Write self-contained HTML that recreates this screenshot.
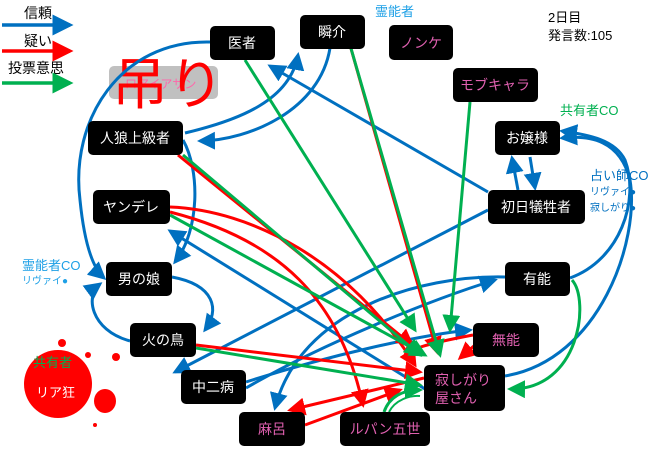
<html><head><style>body{margin:0;background:#fff}svg{display:block}
.n{fill:#000;}
text{font-family:"Liberation Sans","Noto Sans CJK JP",sans-serif}
</style></head><body>
<svg width="660" height="449" viewBox="0 0 660 449">
<defs>
<marker id="b" markerWidth="6" markerHeight="6" refX="5" refY="3" orient="auto" markerUnits="strokeWidth"><path d="M0,0L6,3L0,6z" fill="#0070c0"/></marker>
<marker id="r" markerWidth="6" markerHeight="6" refX="5" refY="3" orient="auto" markerUnits="strokeWidth"><path d="M0,0L6,3L0,6z" fill="#f00"/></marker>
<marker id="g" markerWidth="6" markerHeight="6" refX="5" refY="3" orient="auto" markerUnits="strokeWidth"><path d="M0,0L6,3L0,6z" fill="#00b050"/></marker>
</defs>
<!-- legend -->
<text x="24" y="18" font-size="14">信頼</text>
<line x1="2" y1="25" x2="70" y2="25" stroke="#0070c0" stroke-width="3.5" marker-end="url(#b)"/>
<text x="24" y="46" font-size="14">疑い</text>
<line x1="2" y1="51" x2="70" y2="51" stroke="#f00" stroke-width="3.5" marker-end="url(#r)"/>
<text x="8" y="73" font-size="14">投票意思</text>
<line x1="2" y1="83" x2="70" y2="83" stroke="#00b050" stroke-width="3.5" marker-end="url(#g)"/>
<text x="548" y="22" font-size="13">2日目</text>
<text x="548" y="40" font-size="13">発言数:105</text>
<text x="375" y="16" font-size="13" fill="#1ea0e6">霊能者</text>
<text x="560" y="115" font-size="13" fill="#00b050">共有者CO</text>
<text x="590" y="180" font-size="13" fill="#0070c0">占い師CO</text>
<text x="590" y="195" font-size="10" fill="#0070c0">リヴァイ●</text>
<text x="590" y="211" font-size="10" fill="#0070c0">寂しがり●</text>
<text x="22" y="270" font-size="13" fill="#1ea0e6">霊能者CO</text>
<text x="22" y="284" font-size="10" fill="#1ea0e6">リヴァイ●</text>
<!-- blob -->
<ellipse cx="58" cy="384" rx="34" ry="34" fill="#f00"/>
<ellipse cx="105" cy="401" rx="11" ry="12" fill="#f00"/><circle cx="116" cy="357" r="4" fill="#f00"/><circle cx="88" cy="355" r="3" fill="#f00"/><circle cx="62" cy="343" r="4" fill="#f00"/><circle cx="95" cy="425" r="2" fill="#f00"/>
<text x="33" y="367" font-size="13" fill="#00b050">共有者</text>
<text x="36" y="397" font-size="13" fill="#fff">リア狂</text>
<!-- hanged -->
<rect x="109" y="66" width="109" height="33" rx="5" fill="#c0c0c0"/>
<text x="125" y="88" font-size="12" fill="#f6a">ロアイアサン</text>
<text x="112" y="104" font-size="56" fill="#f00">吊り</text>
<!-- edges -->
<g fill="none" stroke-width="3">
<path d="M210 42C120 40 70 120 80 200C85 250 95 270 104 278" stroke="#0070c0" marker-end="url(#b)"/>
<path d="M185 133C240 120 290 100 298 55" stroke="#0070c0" marker-end="url(#b)"/>
<path d="M330 48C320 110 250 140 200 141" stroke="#0070c0" marker-end="url(#b)"/>
<path d="M183 140C200 170 200 230 175 262" stroke="#0070c0" marker-end="url(#b)"/>
<path d="M488 192L270 66" stroke="#0070c0" marker-end="url(#b)"/>
<path d="M488 210L175 372" stroke="#0070c0" marker-end="url(#b)"/>
<path d="M425 389L170 231" stroke="#0070c0" marker-end="url(#b)"/>
<path d="M172 277C215 285 220 310 205 330" stroke="#0070c0" marker-end="url(#b)"/>
<path d="M130 341C90 330 85 295 100 284" stroke="#0070c0" marker-end="url(#b)"/>
<path d="M246 388C320 345 430 300 495 280" stroke="#0070c0" marker-end="url(#b)"/>
<path d="M505 277C420 275 300 310 275 408" stroke="#0070c0" marker-end="url(#b)"/>
<path d="M246 382C330 355 420 335 470 330" stroke="#0070c0" marker-end="url(#b)"/>
<path d="M505 376C600 360 640 240 630 180C620 140 590 135 562 138" stroke="#0070c0" marker-end="url(#b)"/>
<path d="M570 278C620 260 640 200 625 160C615 140 590 135 562 131" stroke="#0070c0" marker-end="url(#b)"/>
<path d="M518 190L512 158" stroke="#0070c0" marker-end="url(#b)"/>
<path d="M530 157L535 188" stroke="#0070c0" marker-end="url(#b)"/>
<path d="M178 155L412 345" stroke="#f00" marker-end="url(#r)"/>
<path d="M170 207C250 210 350 260 415 365" stroke="#f00" marker-end="url(#r)"/>
<path d="M196 345L420 372" stroke="#f00" marker-end="url(#r)"/>
<path d="M350 45L437 352" stroke="#f00" marker-end="url(#r)"/>
<path d="M170 212C280 240 340 300 363 405" stroke="#f00" marker-end="url(#r)"/>
<path d="M473 335C420 345 410 350 405 355" stroke="#f00" marker-end="url(#r)"/>
<path d="M475 345L460 358" stroke="#f00" marker-end="url(#r)"/>
<path d="M305 425L400 390" stroke="#f00" marker-end="url(#r)"/>
<path d="M424 378L290 410" stroke="#f00" marker-end="url(#r)"/>
<path d="M245 60L415 330" stroke="#00b050" marker-end="url(#g)"/>
<path d="M350 45L440 355" stroke="#00b050" marker-end="url(#g)"/>
<path d="M470 102L450 330" stroke="#00b050" marker-end="url(#g)"/>
<path d="M183 155L420 355" stroke="#00b050" marker-end="url(#g)"/>
<path d="M170 215L425 355" stroke="#00b050" marker-end="url(#g)"/>
<path d="M196 348L420 385" stroke="#00b050" marker-end="url(#g)"/>
<path d="M572 280C590 300 580 390 510 389" stroke="#00b050" marker-end="url(#g)"/>
<path d="M384 412C390 395 405 390 420 390" stroke="#00b050" marker-end="url(#g)"/>
<path d="M389 412C395 400 410 395 420 396" stroke="#00b050" stroke-width="2"/>
</g>
<!-- nodes -->
<g font-size="14" text-anchor="middle">
<rect x="210" y="26" width="65" height="34" rx="5" class="n"/><text x="242" y="48" fill="#fff">医者</text>
<rect x="300" y="15" width="65" height="34" rx="5" class="n"/><text x="332" y="37" fill="#fff">瞬介</text>
<rect x="389" y="25" width="64" height="35" rx="5" class="n"/><text x="421" y="48" fill="#e060b0">ノンケ</text>
<rect x="453" y="68" width="85" height="34" rx="5" class="n"/><text x="495" y="90" fill="#e060b0">モブキャラ</text>
<rect x="495" y="121" width="65" height="34" rx="5" class="n"/><text x="527" y="143" fill="#fff">お嬢様</text>
<rect x="488" y="190" width="97" height="34" rx="5" class="n"/><text x="536" y="212" fill="#fff">初日犠牲者</text>
<rect x="88" y="121" width="95" height="34" rx="5" class="n"/><text x="135" y="143" fill="#fff">人狼上級者</text>
<rect x="93" y="190" width="77" height="34" rx="5" class="n"/><text x="131" y="212" fill="#fff">ヤンデレ</text>
<rect x="106" y="262" width="66" height="34" rx="5" class="n"/><text x="139" y="284" fill="#fff">男の娘</text>
<rect x="130" y="323" width="66" height="34" rx="5" class="n"/><text x="163" y="345" fill="#fff">火の鳥</text>
<rect x="181" y="370" width="65" height="34" rx="5" class="n"/><text x="213" y="392" fill="#fff">中二病</text>
<rect x="239" y="412" width="66" height="34" rx="5" class="n"/><text x="272" y="434" fill="#e060b0">麻呂</text>
<rect x="340" y="412" width="90" height="34" rx="5" class="n"/><text x="385" y="434" fill="#e060b0">ルパン五世</text>
<rect x="473" y="323" width="66" height="34" rx="5" class="n"/><text x="506" y="345" fill="#e060b0">無能</text>
<rect x="505" y="262" width="65" height="34" rx="5" class="n"/><text x="537" y="284" fill="#fff">有能</text>
<rect x="424" y="365" width="81" height="46" rx="5" class="n"/><text x="435" y="385" fill="#e060b0" text-anchor="start">寂しがり</text><text x="435" y="403" fill="#e060b0" text-anchor="start">屋さん</text>
</g>
</svg></body></html>
